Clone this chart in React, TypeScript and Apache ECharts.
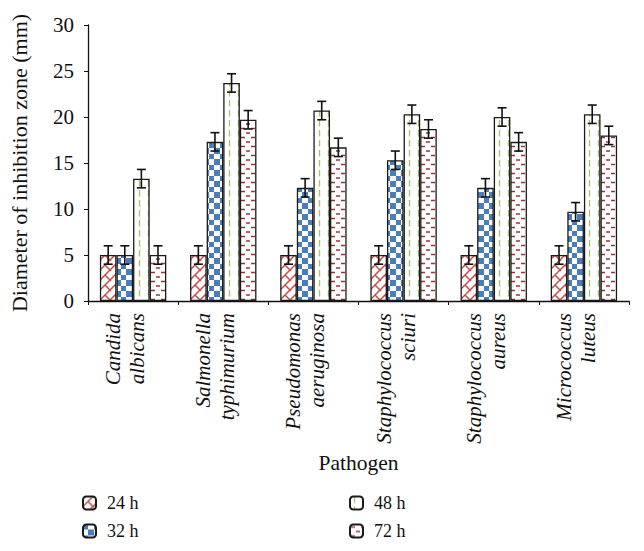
import React, { useEffect, useRef } from "react";
import * as echarts from "echarts";

const categories = [
  "Candida\nalbicans",
  "Salmonella\ntyphimurium",
  "Pseudomonas\naeruginosa",
  "Staphylococcus\nsciuri",
  "Staphylococcus\naureus",
  "Micrococcus\nluteus",
];
const seriesNames = ["24 h", "32 h", "48 h", "72 h"];
const values24 = [5, 5, 5, 5, 5, 5];
const values32 = [5, 17.3, 12.3, 15.3, 12.3, 9.7];
const values48 = [13.3, 23.7, 20.7, 20.3, 20, 20.3];
const values72 = [5, 19.7, 16.7, 18.7, 17.3, 18];
const errors24 = [1, 1, 1, 1, 1, 1];
const errors32 = [1, 1, 1, 1, 1, 1];
const errors48 = [1, 1, 1, 1, 1, 1];
const errors72 = [1, 1, 1, 1, 1, 1];
const yTicks = [0, 5, 10, 15, 20, 25, 30];

function makeCanvas(w: number, h: number, draw: (c: CanvasRenderingContext2D) => void) {
  const cv = document.createElement("canvas");
  cv.width = w;
  cv.height = h;
  const ctx = cv.getContext("2d")!;
  ctx.fillStyle = "#ffffff";
  ctx.fillRect(0, 0, w, h);
  draw(ctx);
  return cv;
}

export default function App() {
  const ref = useRef<HTMLDivElement>(null);
  useEffect(() => {
    if (!ref.current) return;
    const chart = echarts.init(ref.current, undefined, { renderer: "svg" });

    const p24 = makeCanvas(10, 10, (c) => {
      c.strokeStyle = "#c0504d";
      c.lineWidth = 1.5;
      c.beginPath();
      c.moveTo(-1, 11); c.lineTo(11, -1);
      c.moveTo(5, 5); c.lineTo(11, 11);
      c.moveTo(-5, -5); c.lineTo(1, 1);
      c.stroke();
    });
    const p32 = makeCanvas(11, 11, (c) => {
      c.fillStyle = "#4a7ebb";
      c.fillRect(0, 0, 5, 5);
      c.fillRect(5, 5, 6, 6);
    });
    const p48 = makeCanvas(9, 10, (c) => {
      c.strokeStyle = "#a9c46f";
      c.lineWidth = 1.4;
      c.beginPath();
      c.moveTo(4.5, 0); c.lineTo(4.5, 6.5);
      c.stroke();
    });
    const p72 = makeCanvas(10, 9, (c) => {
      c.strokeStyle = "#953735";
      c.lineWidth = 1.4;
      c.beginPath();
      c.moveTo(1, 2.5); c.lineTo(5, 2.5);
      c.moveTo(6, 7); c.lineTo(10, 7);
      c.stroke();
    });
    const patterns = [p24, p32, p48, p72];
    const vals = [values24, values32, values48, values72];
    const errs = [errors24, errors32, errors48, errors72];
    const barWidth = 16.6;

    const barSeries = seriesNames.map((name, i) => ({
      name,
      type: "bar",
      data: vals[i],
      barWidth,
      barGap: "0%",
      itemStyle: {
        color: { image: patterns[i], repeat: "repeat" },
        borderColor: "#1a1a1a",
        borderWidth: 1.3,
      },
      z: 2,
    }));

    const errSeries = seriesNames.map((name, i) => ({
      name: name + " err",
      type: "custom",
      z: 10,
      data: vals[i].map((v, k) => [k, v, errs[i][k]]),
      renderItem: (params: any, api: any) => {
        const x = api.value(0);
        const v = api.value(1);
        const e = api.value(2);
        const off = (i - 1.5) * barWidth;
        const top = api.coord([x, v + e]);
        const bot = api.coord([x, v - e]);
        const cx = top[0] + off;
        const style = { stroke: "#111", lineWidth: 1.6 };
        return {
          type: "group",
          children: [
            { type: "line", shape: { x1: cx, y1: top[1], x2: cx, y2: bot[1] }, style },
            { type: "line", shape: { x1: cx - 4.5, y1: top[1], x2: cx + 4.5, y2: top[1] }, style },
            { type: "line", shape: { x1: cx - 4.5, y1: bot[1], x2: cx + 4.5, y2: bot[1] }, style },
          ],
        };
      },
    }));

    const font = "'Liberation Serif', 'DejaVu Serif', serif";
    const legendPos = [
      { left: 82, top: 494 },
      { left: 82, top: 522 },
      { left: 349, top: 494 },
      { left: 349, top: 522 },
    ];
    const legends = seriesNames.map((n, i) => ({
      data: [n],
      left: legendPos[i].left,
      top: legendPos[i].top,
      padding: 0,
      itemWidth: 13,
      itemHeight: 13,
      itemGap: 0,
      textStyle: { fontFamily: font, fontSize: 18, color: "#111", padding: [0, 0, 0, 6] },
    }));

    const labelText = { fontFamily: font, fontStyle: "italic", fontSize: 21, lineHeight: 24, color: "#111" };

    chart.setOption({
      animation: false,
      backgroundColor: "#ffffff",
      textStyle: { fontFamily: font },
      grid: { left: 83, right: 15, top: 25, bottom: 250, containLabel: false },
      legend: legends,
      xAxis: {
        type: "category",
        data: categories,
        name: "Pathogen",
        nameLocation: "middle",
        nameGap: 150,
        nameTextStyle: { fontFamily: font, fontSize: 21.5, color: "#111" },
        axisLine: { lineStyle: { color: "#111", width: 1.3 } },
        axisTick: { show: true, length: 4, lineStyle: { color: "#111" } },
        axisLabel: {
          rotate: 90,
          margin: 12,
          interval: 0,
          ...labelText,
          formatter: (v: string) => v.split("\n").map((s) => "{a|" + s + "}").join("\n") + "\n{b|}",
          rich: {
            a: { ...labelText },
            b: { fontSize: 1, lineHeight: 16, height: 16 },
          },
        },
      },
      yAxis: {
        type: "value",
        min: yTicks[0],
        max: yTicks[yTicks.length - 1],
        interval: 5,
        name: "Diameter of inhibition zone (mm)",
        nameLocation: "middle",
        nameGap: 58,
        nameTextStyle: { fontFamily: font, fontSize: 22, color: "#111" },
        axisLine: { show: true, lineStyle: { color: "#111", width: 1.3 } },
        axisTick: { show: true, length: 4, lineStyle: { color: "#111" } },
        splitLine: { show: false },
        axisLabel: { fontFamily: font, fontSize: 21, color: "#111", margin: 14 },
      },
      series: [...barSeries, ...errSeries],
    });
    return () => chart.dispose();
  }, []);
  return <div ref={ref} style={{ width: 644, height: 551, position: "absolute", left: 0, top: 0 }} />;
}
